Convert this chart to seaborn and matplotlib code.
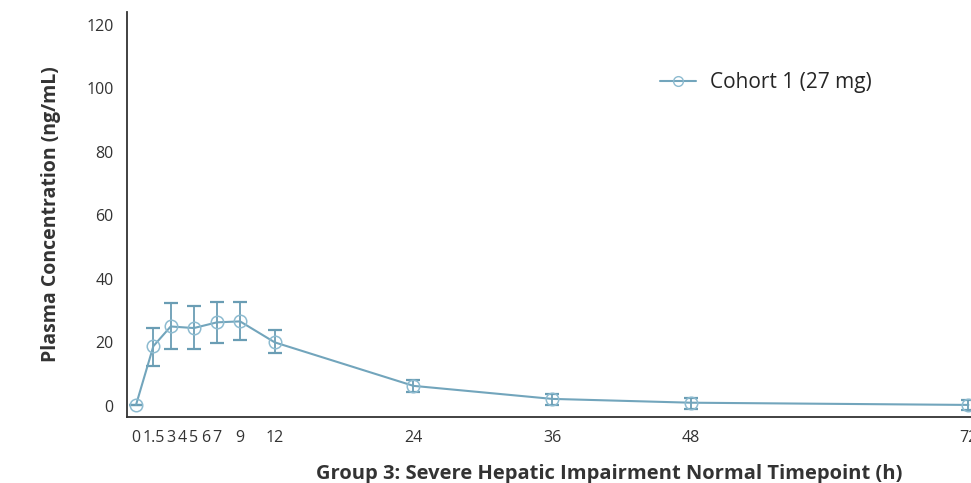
import numpy as np
import pandas as pd
import matplotlib
matplotlib.use("Agg")
import matplotlib.pyplot as plt
import seaborn as sns

# Données
timepoints = [0, 1.5, 3, 5, 7, 9, 12, 24, 36, 48, 72]
mean_conc = [0.3, 18.8, 25.0, 24.5, 26.3, 26.6, 20.0, 6.3, 2.2, 1.0, 0.3]
lower_conc = [0.3, 12.6, 18.0, 18.0, 19.7, 20.8, 16.7, 4.4, 0.3, -1.0, -1.3]
upper_conc = [0.3, 24.6, 32.5, 31.3, 32.7, 32.8, 23.8, 8.0, 3.8, 2.6, 1.9]
x_ticks = [0, 1.5, 3, 4, 5, 6, 7, 9, 12, 24, 36, 48, 72]
x_tick_labels = ["0", "1.5", "3", "4", "5", "6", "7", "9", "12", "24", "36", "48", "72"]
y_ticks = [0, 20, 40, 60, 80, 100, 120]
cohort_label = "Cohort 1 (27 mg)"

df = pd.DataFrame({"time": timepoints, "conc": mean_conc,
                   "low": lower_conc, "high": upper_conc})
df["cohort"] = cohort_label

sns.set_theme(style="white")
plt.rcParams["font.family"] = ["Open Sans", "Noto Sans", "DejaVu Sans"]

color = "#72a5bc"
dark = "#333333"

fig = plt.figure(figsize=(9.71, 4.83), dpi=100)
W, H = 971, 483
# l'axe dépasse à droite comme sur l'original (graphique rogné)
ax = fig.add_axes([127 / W, (H - 417) / H, (1091 - 127) / W, (417 - 12) / H])

# Barres d'erreur
yerr = np.array([df["conc"] - df["low"], df["high"] - df["conc"]])
ax.errorbar(df["time"], df["conc"], yerr=yerr, fmt="none", ecolor="#6a9db4",
            elinewidth=1.3, capsize=5, capthick=1.6, zorder=2)

sns.lineplot(data=df, x="time", y="conc", hue="cohort", palette=[color],
             marker="o", markersize=9, markerfacecolor="none",
             markeredgecolor="#8dbbd0", markeredgewidth=1.1,
             linewidth=1.5, ax=ax, zorder=3)

ax.set_xlim(-0.78, 82.6)
ax.set_ylim(-3.5, 124)
ax.set_xticks(x_ticks)
ax.set_xticklabels(x_tick_labels)
ax.set_yticks(y_ticks)

for s in ["top", "right"]:
    ax.spines[s].set_visible(False)
for s in ["left", "bottom"]:
    ax.spines[s].set_color(dark)
    ax.spines[s].set_linewidth(1.3)

ax.tick_params(axis="both", direction="out", length=7, width=1.1,
               color=dark, labelcolor=dark, labelsize=11.5, pad=2.5)

ax.set_ylabel("Plasma Concentration (ng/mL)", fontsize=14, fontweight="bold",
              color=dark, labelpad=18)
ax.set_xlabel("Group 3: Severe Hepatic Impairment Normal Timepoint (h)",
              fontsize=14.5, fontweight="bold", color=dark, labelpad=13)

leg = ax.legend(loc="center left", bbox_to_anchor=(0.553, 0.825), frameon=False,
                fontsize=15, handlelength=1.7, handletextpad=0.7, borderpad=0,
                borderaxespad=0)
for h in leg.legend_handles:
    h.set_markersize(7)
    h.set_markeredgewidth(1.0)

fig.savefig("out.png", dpi=100)
